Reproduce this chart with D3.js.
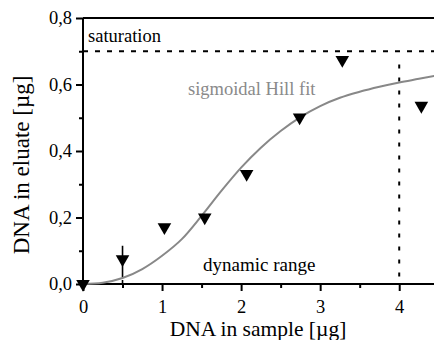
<!DOCTYPE html>
<html>
<head>
<meta charset="utf-8">
<script src="https://cdn.jsdelivr.net/npm/d3@7"></script>
<style>
  body { margin: 0; background: #fff; }
  #chart svg text { font-family: "Liberation Serif", "DejaVu Serif", serif !important; }
</style>
</head>
<body>
<div id="chart"></div>
<script>
// measured points (DNA in sample vs DNA in eluate, µg)
const sampleDNA = [0, 0.5, 1.03, 1.54, 2.07, 2.74, 3.28, 4.28];
const eluateDNA = [0, 0.075, 0.171, 0.2, 0.331, 0.501, 0.674, 0.536];

// Hill fit curve
const fitX = [0, 0.25, 0.5, 0.75, 1.0, 1.25, 1.5, 1.75, 2.0, 2.25, 2.5, 2.75, 3.0, 3.25, 3.5, 3.75, 4.0, 4.25, 4.45];
const fitY = [0, 0.004, 0.018, 0.045, 0.085, 0.135, 0.205, 0.28, 0.35, 0.41, 0.46, 0.502, 0.535, 0.56, 0.578, 0.593, 0.606, 0.617, 0.626];

const saturation = 0.7;
const rangeStart = 0.5, rangeEnd = 4;
const xTicks = [0, 1, 2, 3, 4];
const yTicks = [0, 0.2, 0.4, 0.6, 0.8];

const width = 434, height = 340;
const margin = {top: 18, right: 0, bottom: 56, left: 83};

const svg = d3.select("#chart").append("svg")
  .attr("width", width)
  .attr("height", height);

const x = d3.scaleLinear().domain([0, 4.44]).range([margin.left, width - margin.right]);
const y = d3.scaleLinear().domain([0, 0.8]).range([height - margin.bottom, margin.top]);

const fmt = d => d3.format(".1f")(d).replace(".", ",");

// minor ticks
svg.append("g")
  .attr("transform", "translate(0," + y(0) + ")")
  .call(d3.axisBottom(x).tickValues(d3.range(0.5, 4.5, 1)).tickSize(4).tickFormat(""))
  .call(g => g.select(".domain").remove());
svg.append("g")
  .attr("transform", "translate(" + x(0) + ",0)")
  .call(d3.axisLeft(y).tickValues([0.1, 0.3, 0.5, 0.7]).tickSize(4).tickFormat(""))
  .call(g => g.select(".domain").remove());

const xAxis = svg.append("g")
  .attr("transform", "translate(0," + y(0) + ")")
  .call(d3.axisBottom(x).tickValues(xTicks).tickSize(7).tickPadding(9).tickFormat(d3.format("d")));
xAxis.select(".domain").attr("d", "M" + x.range()[0] + ",0H" + x.range()[1]);

const yAxis = svg.append("g")
  .attr("transform", "translate(" + x(0) + ",0)")
  .call(d3.axisLeft(y).tickValues(yTicks).tickSize(7).tickPadding(4).tickFormat(fmt));
yAxis.select(".domain").attr("d", "M0," + y.range()[0] + "V" + y.range()[1]);

svg.selectAll(".tick line").attr("stroke", "#000").attr("stroke-width", 2);
svg.selectAll(".domain").attr("stroke", "#000").attr("stroke-width", 2);
svg.selectAll(".tick text").attr("font-size", 18.5).attr("fill", "#000");

// top frame line
svg.append("line")
  .attr("x1", x(0)).attr("x2", x(4.44))
  .attr("y1", y(0.8)).attr("y2", y(0.8))
  .attr("stroke", "#000").attr("stroke-width", 2);

// saturation level
svg.append("line")
  .attr("x1", x(0)).attr("x2", x(4.44))
  .attr("y1", y(saturation)).attr("y2", y(saturation))
  .attr("stroke", "#000").attr("stroke-width", 2)
  .attr("stroke-dasharray", "5,7");

// end of dynamic range
svg.append("line")
  .attr("x1", x(rangeEnd)).attr("x2", x(rangeEnd))
  .attr("y1", y(0.66)).attr("y2", y(0))
  .attr("stroke", "#000").attr("stroke-width", 2)
  .attr("stroke-dasharray", "4,9");

// start of dynamic range: arrow + dotted
svg.append("line")
  .attr("x1", x(rangeStart)).attr("x2", x(rangeStart))
  .attr("y1", y(0.115)).attr("y2", y(0.03))
  .attr("stroke", "#000").attr("stroke-width", 1.6);
svg.append("line")
  .attr("x1", x(rangeStart)).attr("x2", x(rangeStart))
  .attr("y1", y(0.03)).attr("y2", y(0))
  .attr("stroke", "#000").attr("stroke-width", 1.6)
  .attr("stroke-dasharray", "3,3");

// fit curve
const fit = fitX.map((d, i) => [d, fitY[i]]);
svg.append("path")
  .datum(fit)
  .attr("fill", "none")
  .attr("stroke", "#888")
  .attr("stroke-width", 2)
  .attr("d", d3.line().x(d => x(d[0])).y(d => y(d[1])).curve(d3.curveMonotoneX));

// data points
svg.selectAll(".pt")
  .data(sampleDNA.map((d, i) => [d, eluateDNA[i]]))
  .join("path")
  .attr("class", "pt")
  .attr("d", d3.symbol(d3.symbolTriangle, 80))
  .attr("transform", d => "translate(" + x(d[0]) + "," + y(d[1]) + ") rotate(180)")
  .attr("fill", "#000");

// annotations
svg.append("text").attr("x", 88).attr("y", 42).attr("font-size", 18.5).text("saturation");
svg.append("text").attr("x", 188).attr("y", 95).attr("font-size", 18.5).attr("fill", "#8a8a8a").text("sigmoidal Hill fit");
svg.append("text").attr("x", 203).attr("y", 271).attr("font-size", 19).text("dynamic range");

// axis titles
svg.append("text")
  .attr("x", 258).attr("y", 336)
  .attr("text-anchor", "middle").attr("font-size", 21.5)
  .text("DNA in sample [µg]");
svg.append("text")
  .attr("transform", "translate(29,165) rotate(-90)")
  .attr("text-anchor", "middle").attr("font-size", 23)
  .text("DNA in eluate [µg]");
</script>
</body>
</html>
